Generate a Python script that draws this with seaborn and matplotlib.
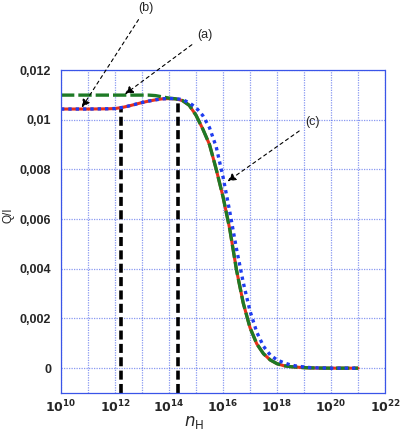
import numpy as np
import pandas as pd
import matplotlib
matplotlib.use("Agg")
import matplotlib.pyplot as plt
from matplotlib.ticker import FuncFormatter, NullFormatter
import seaborn as sns

logn_red = [10, 11, 11.75, 12.0, 12.25, 12.5, 12.75, 13.0, 13.25, 13.5, 13.75, 14.0, 14.25,
            14.5, 14.75, 15.0, 15.25, 15.5, 15.75, 16.0, 16.25, 16.5, 16.75, 17.0, 17.25,
            17.5, 17.75, 18.0, 18.25, 18.5, 19.0, 19.5, 20, 21]
q_red = [0.01043, 0.01043, 0.01044, 0.01045, 0.01049, 0.01055, 0.01062, 0.01069, 0.01075,
         0.01080, 0.01084, 0.01085, 0.01084, 0.01077, 0.01058, 0.01018, 0.00963, 0.00900,
         0.00800, 0.00690, 0.00560, 0.00395, 0.00262, 0.00163, 0.00098, 0.00058, 0.00033,
         0.00018, 0.00010, 0.00006, 0.00002, 0.000005, 0, 0]

logn_green = [10, 12, 13.0, 13.25, 13.5, 13.75, 14.0, 14.25,
              14.5, 14.75, 15.0, 15.25, 15.5, 15.75, 16.0, 16.25, 16.5, 16.75, 17.0, 17.25,
              17.5, 17.75, 18.0, 18.25, 18.5, 19.0, 19.5, 20, 21]
q_green = [0.01099, 0.01099, 0.01099, 0.01099, 0.01097, 0.01092, 0.01087, 0.01084,
           0.01077, 0.01058, 0.01018, 0.00963, 0.00900, 0.00800, 0.00690, 0.00560, 0.00395,
           0.00262, 0.00163, 0.00098, 0.00058, 0.00033, 0.00018, 0.00010, 0.00006, 0.00002,
           0.000005, 0, 0]

logn_blue = [10, 11, 11.75, 12.0, 12.25, 12.5, 12.75, 13.0, 13.25, 13.5, 13.75, 14.0, 14.25,
             14.5, 14.75, 15.0, 15.25, 15.5, 15.75, 16.0, 16.25, 16.5, 16.75, 17.0, 17.25,
             17.5, 17.75, 18.0, 18.25, 18.5, 18.75, 19.25, 20, 21]
q_blue = [0.01043, 0.01043, 0.01044, 0.01045, 0.01049, 0.01055, 0.01062, 0.01069, 0.01075,
          0.01080, 0.01084, 0.01085, 0.01085, 0.01081, 0.01068, 0.01049, 0.01017, 0.00968,
          0.00890, 0.00770, 0.00630, 0.00480, 0.00345, 0.00230, 0.00145, 0.00088, 0.00053,
          0.00033, 0.00022, 0.00013, 0.00008, 0.00002, 0, 0]

# vertical markers (log10 n_H, Q/I where they meet the curve)
mark_logn = [12.23, 14.33]
mark_q = [0.01048, 0.01084]

ytick_vals = [0, 0.002, 0.004, 0.006, 0.008, 0.010, 0.012]
xtick_exp = [10, 12, 14, 16, 18, 20, 22]

sns.set_style("white")
plt.rcParams['font.family'] = ['Liberation Sans', 'DejaVu Sans']

red = pd.DataFrame({"n": np.power(10.0, logn_red), "q": q_red})
green = pd.DataFrame({"n": np.power(10.0, logn_green), "q": q_green})
blue = pd.DataFrame({"n": np.power(10.0, logn_blue), "q": q_blue})

fig = plt.figure(figsize=(4, 4.36), dpi=100)
ax = fig.add_axes([0.1525, 0.0986, 0.81, 0.7408])
ax.set_xscale("log")

sns.lineplot(data=red, x="n", y="q", ax=ax, color="#e8311a", lw=2.2)
sns.lineplot(data=green, x="n", y="q", ax=ax, color="#1e7a26", lw=2.4)
ax.lines[-1].set_dashes([4, 1.2])
sns.lineplot(data=blue, x="n", y="q", ax=ax, color="#1f3cf0", lw=2.4)
ax.lines[-1].set_linestyle((0, (1, 1.2)))

ax.vlines(np.power(10.0, mark_logn), -0.001, mark_q, colors="black", lw=2.6,
          linestyles=(0, (2.5, 1.2)), zorder=1)

ax.set_xlim(1e10, 1e22)
ax.set_ylim(-0.001, 0.012)

ax.set_xticks([10.0 ** e for e in xtick_exp])
ax.set_xticklabels([r"$\mathbf{10^{%d}}$" % e for e in xtick_exp], fontsize=9)
ax.set_xticks([10.0 ** e for e in range(11, 22, 2)], minor=True)
ax.xaxis.set_minor_formatter(NullFormatter())
ax.set_yticks(ytick_vals)
ax.yaxis.set_major_formatter(FuncFormatter(lambda v, p: f"{v:g}".replace(".", ",")))
for lab in ax.get_yticklabels():
    lab.set_fontweight("bold")
    lab.set_fontsize(9)
ax.tick_params(axis="y", which="both", length=0, pad=7)
ax.tick_params(axis="x", which="both", length=0, pad=4)

ax.grid(True, which="both", color="#3a55e8", linestyle=(0, (1, 1)), lw=0.9, alpha=0.6)
for sp in ax.spines.values():
    sp.set_color("#3a55e8")
    sp.set_linestyle((0, (1, 1)))
    sp.set_linewidth(0.9)

ax.set_xlabel(r"$n_{\mathrm{H}}$", fontsize=12)
ax.xaxis.set_label_coords(0.41, -0.065)
ax.set_ylabel("Q/I", fontsize=8.5)
ax.yaxis.set_label_coords(-0.143, 0.55)

arrow = dict(arrowstyle="-|>", linestyle=(0, (3, 3)), lw=0.8, color="black",
             shrinkA=2, shrinkB=0, mutation_scale=12)
ax.annotate("(a)", xy=(10 ** 12.37, 0.01103), xytext=(205, 401), textcoords="figure pixels",
            ha="center", va="center", fontsize=9, arrowprops=arrow, annotation_clip=False)
ax.annotate("(b)", xy=(10 ** 10.77, 0.01049), xytext=(146, 428), textcoords="figure pixels",
            ha="center", va="center", fontsize=9, arrowprops=arrow, annotation_clip=False)
ax.annotate("(c)", xy=(10 ** 16.17, 0.00752), xytext=(312, 314), textcoords="figure pixels",
            ha="center", va="center", fontsize=9, arrowprops=arrow, annotation_clip=False)

fig.savefig("out.png", dpi=100)
